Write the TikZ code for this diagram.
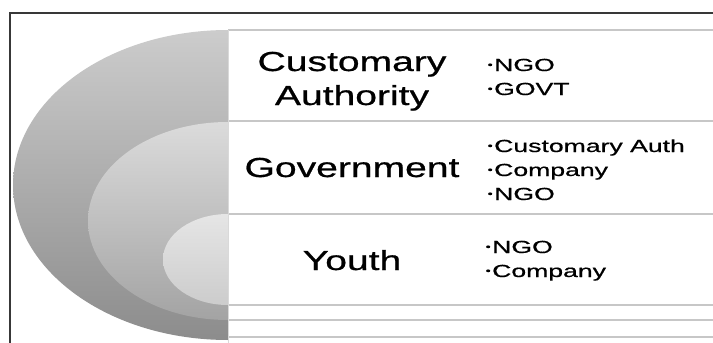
\documentclass[tikz,border=0pt]{standalone}
\usepackage{fontspec}
\setmainfont{Liberation Sans}
\newfontfamily\labelfont{Liberation Sans}[FakeBold=0.6]
\usetikzlibrary{calc}
% small list bullet, centred on cap mid-height
\newcommand\listdot{\hbox to 0.3em{\hss\raisebox{0.17em}{\scalebox{0.55}{•}}\hss}}
\begin{document}
\begin{tikzpicture}[x=1pt,y=-1pt,
  frameline/.style={draw=black!78,line width=1.4pt},
  rowline/.style={draw=black!22,line width=1.8pt},
  mainlabel/.style={inner sep=0pt,anchor=base,font=\labelfont\fontsize{27.5}{34}\selectfont},
  bulletlist/.style={inner sep=0pt,anchor=base west,font=\labelfont\fontsize{17.5}{24}\selectfont},
]
\useasboundingbox (0,0) rectangle (713,343);
\fill[white] (0,0) rectangle (713,343);

% nested half-ellipses, cut at the divider
\begin{scope}
  \clip (0,0) rectangle (228,343);
  \shade[top color=black!20,bottom color=black!45] (228,185) ellipse [x radius=215,y radius=155];
  \shade[top color=black!14,bottom color=black!36] (228,221) ellipse [x radius=140,y radius=99];
  \shade[top color=black!10,bottom color=black!20] (228,259.5) ellipse [x radius=65,y radius=45.5];
\end{scope}

% row boundaries on the right
\coordinate (d0) at (228,30);
\coordinate (d1) at (228,121);
\coordinate (d2) at (228,214);
\coordinate (d3) at (228,305);
\coordinate (d4) at (228,320);
\coordinate (d5) at (228,337);
\coordinate (dend) at (228,343);
\foreach \c in {d0,d1,d2,d3,d4,d5}
  \draw[rowline] (\c) -- ($(\c)+(485,0)$);
\draw[draw=black!15,line width=1pt] (d0) -- (dend);

% outer frame (top and left edges)
\coordinate (fc) at (10,13);
\coordinate (fr) at (713,13);
\coordinate (fb) at (10,343);
\draw[frameline] (fr) -- (fc) -- (fb);

% labels
\node[mainlabel] (ca) at (352,71) {\scalebox{1.42}[1]{\begin{tabular}[t]{@{}c@{}}Customary\\Authority\end{tabular}}};
\node[mainlabel] (gv) at (352,177) {\scalebox{1.42}[1]{Government}};
\node[mainlabel] (yt) at (352,270) {\scalebox{1.42}[1]{Youth}};

\node[bulletlist] (cal) at (486,71) {\scalebox{1.52}[1]{\begin{tabular}[t]{@{}l@{}}\listdot NGO\\\listdot GOVT\end{tabular}}};
\node[bulletlist] (gvl) at (486,152) {\scalebox{1.52}[1]{\begin{tabular}[t]{@{}l@{}}\listdot Customary Auth\\\listdot Company\\\listdot NGO\end{tabular}}};
\node[bulletlist] (ytl) at (484,253) {\scalebox{1.52}[1]{\begin{tabular}[t]{@{}l@{}}\listdot NGO\\\listdot Company\end{tabular}}};
\end{tikzpicture}
\end{document}
